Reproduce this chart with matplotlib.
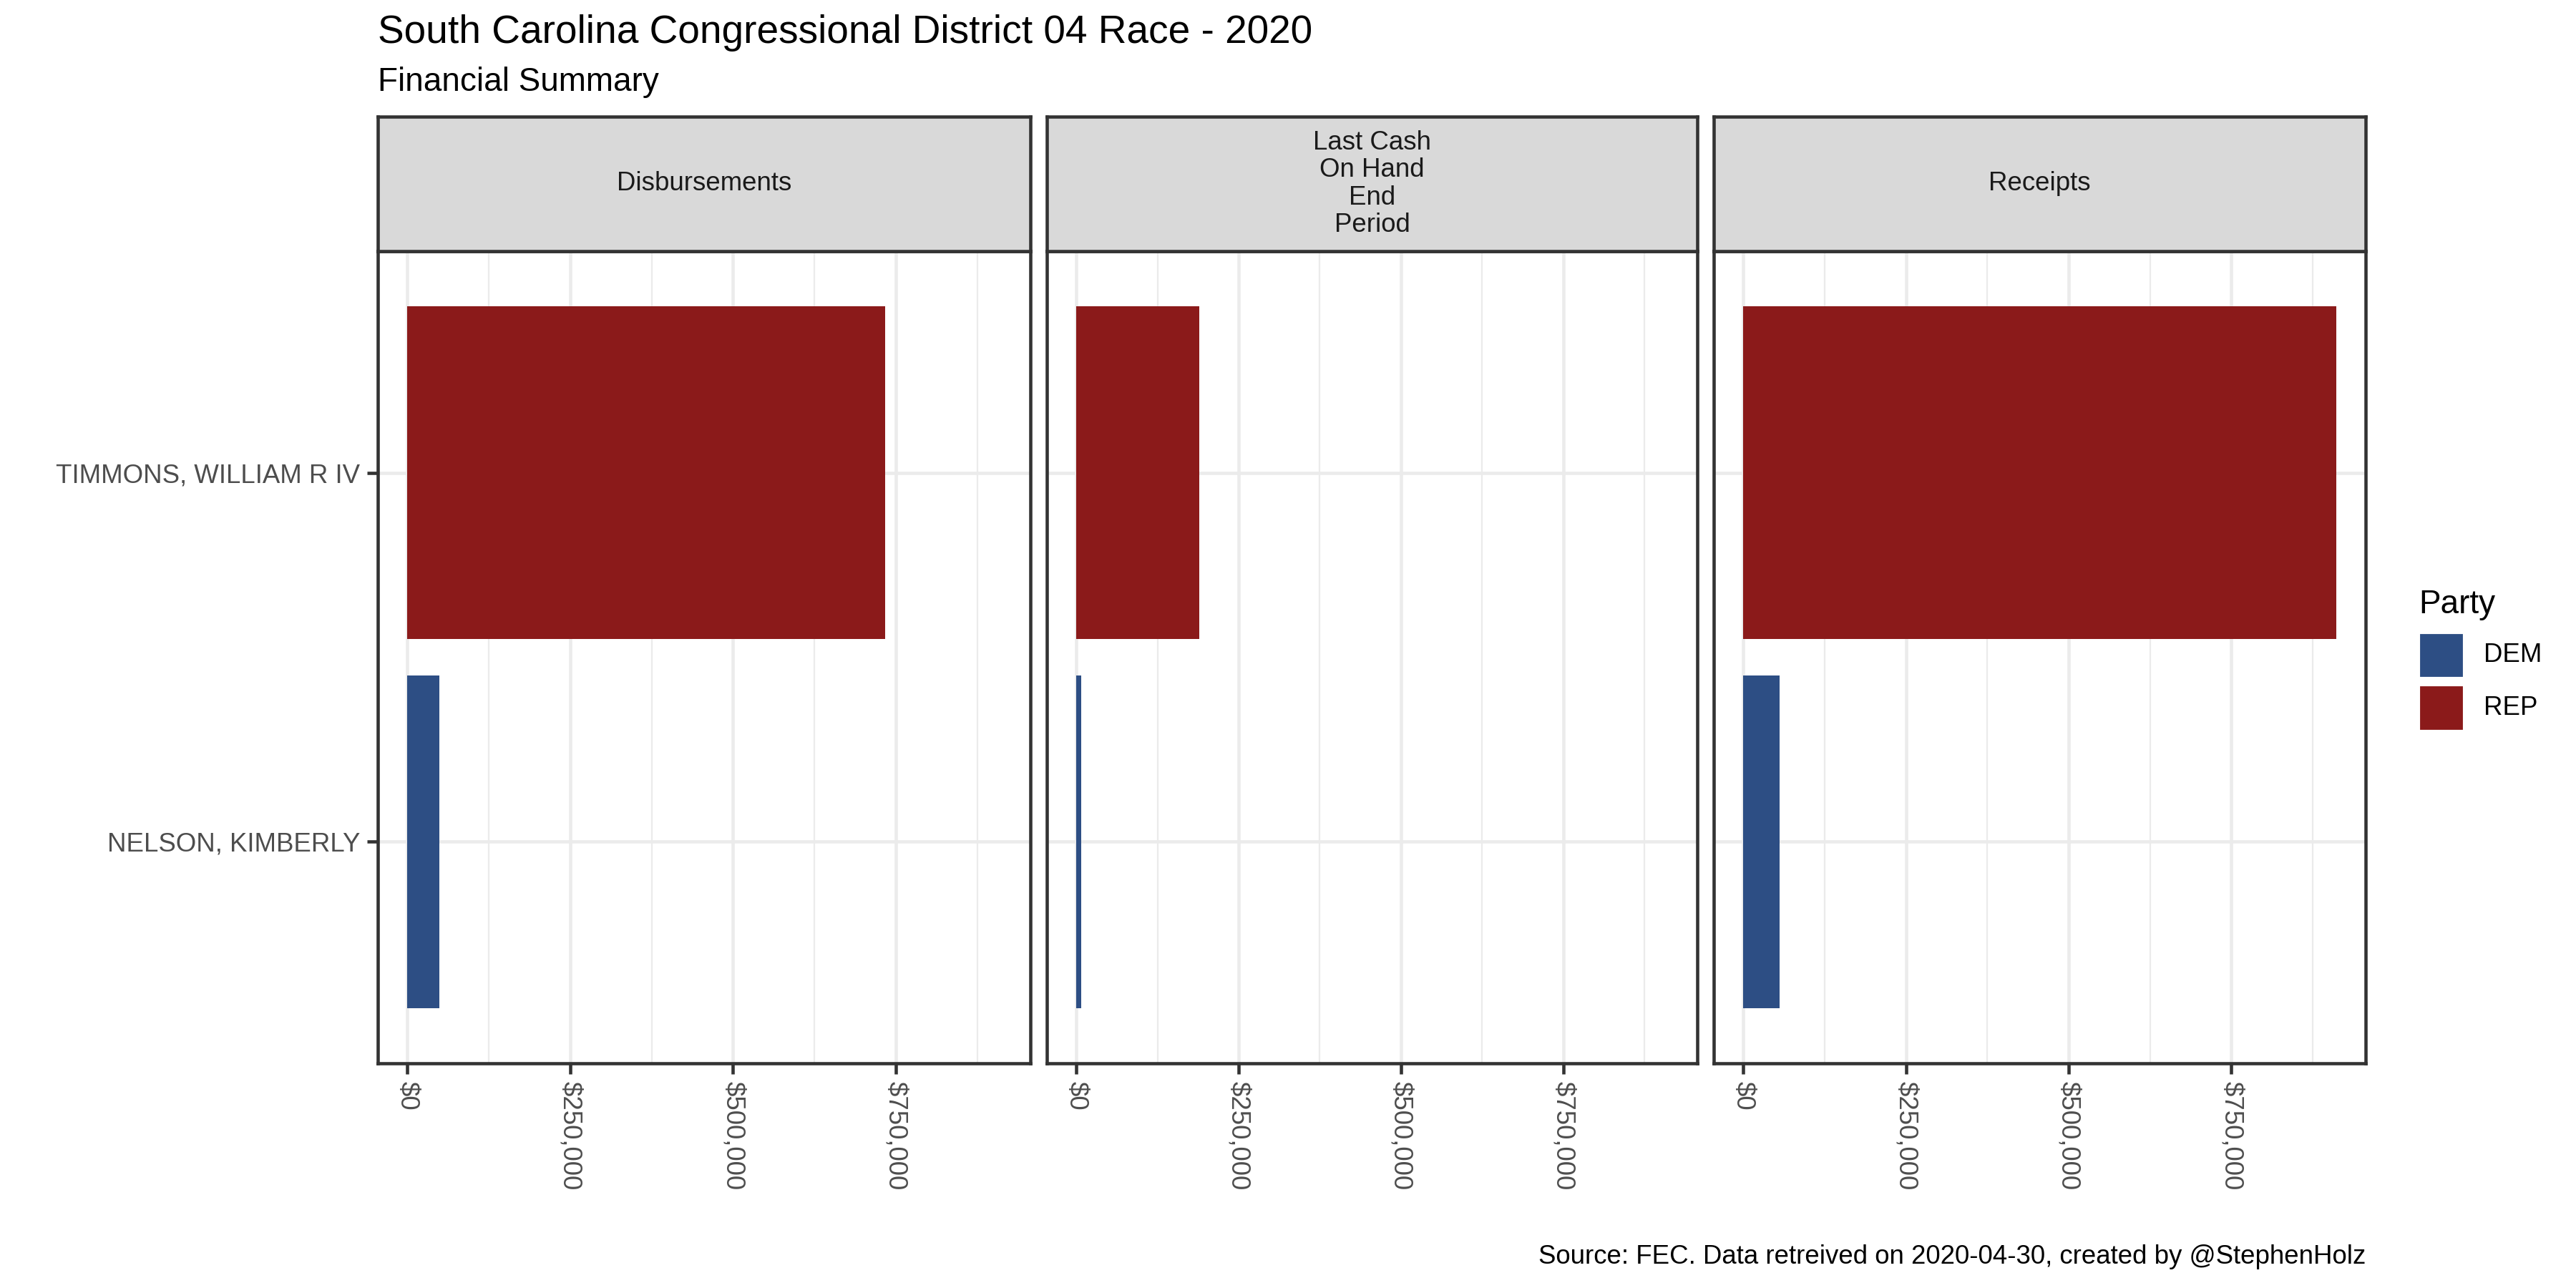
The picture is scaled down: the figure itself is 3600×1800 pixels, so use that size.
import matplotlib
matplotlib.use("Agg")
import matplotlib.pyplot as plt
from matplotlib.patches import Rectangle
from matplotlib.ticker import FixedLocator

plt.rcParams['font.family'] = ['Liberation Sans', 'DejaVu Sans']

# ---- data ----
candidates = ["NELSON, KIMBERLY", "TIMMONS, WILLIAM R IV"]
parties = ["DEM", "REP"]
facets = ["Disbursements", "Last Cash\nOn Hand\nEnd\nPeriod", "Receipts"]
disbursements = [49000, 734000]
cash_on_hand = [7000, 189000]
receipts = [56000, 911000]
values = [disbursements, cash_on_hand, receipts]
x_ticks = [0, 250000, 500000, 750000]
x_minor = [125000, 375000, 625000, 875000]
x_tick_labels = ["$0", "$250,000", "$500,000", "$750,000"]
party_colors = {"DEM": "#2D4E84", "REP": "#8B1A1A"}

W, H = 3600, 1800
fig = plt.figure(figsize=(12, 6), dpi=300)

def ax_px(x0, y0, x1, y1):
    return fig.add_axes([x0 / W, 1 - y1 / H, (x1 - x0) / W, (y1 - y0) / H])

panel_x = [(528, 1440), (1463, 2372), (2395, 3306)]
strip_top, panel_top, panel_bottom = 163, 351, 1486

vmax = max(max(v) for v in values)
xlim = (-0.05 * vmax, 1.05 * vmax)

for i, (x0, x1) in enumerate(panel_x):
    ax = ax_px(x0, panel_top, x1, panel_bottom)
    ax.set_facecolor("white")
    ax.set_xlim(*xlim)
    ax.set_ylim(-0.6, 1.6)
    ax.xaxis.set_major_locator(FixedLocator(x_ticks))
    ax.xaxis.set_minor_locator(FixedLocator(x_minor))
    ax.set_yticks(range(len(candidates)))
    ax.grid(True, which="major", color="#EBEBEB", linewidth=1.1)
    ax.grid(True, which="minor", axis="x", color="#EBEBEB", linewidth=0.55)
    ax.set_axisbelow(True)
    ax.tick_params(axis="x", which="minor", length=0)
    cols = [party_colors[p] for p in parties]
    ax.barh(range(len(candidates)), values[i], height=0.9, color=cols, zorder=2)
    for s in ax.spines.values():
        s.set_color("#333333")
        s.set_linewidth(1.1)
    ax.tick_params(axis="both", which="major", length=3.5, width=1.1, color="#333333",
                   labelsize=8.8, labelcolor="#4D4D4D", pad=2.5)
    ax.set_xticklabels(x_tick_labels, rotation=270, ha="center", va="top")
    if i == 0:
        ax.set_yticklabels(candidates)
    else:
        ax.set_yticklabels([])
        ax.tick_params(axis="y", length=0)
    # strip
    sax = ax_px(x0, strip_top, x1, panel_top)
    sax.set_xticks([]); sax.set_yticks([])
    sax.set_facecolor("#D9D9D9")
    for s in sax.spines.values():
        s.set_color("#333333")
        s.set_linewidth(1.1)
    sax.text(0.5, 0.5, facets[i], ha="center", va="center", fontsize=8.8,
             color="#1A1A1A", linespacing=1.12, transform=sax.transAxes)

# titles
fig.text(528 / W, 1 - 46 / H, "South Carolina Congressional District 04 Race - 2020",
         fontsize=13.2, ha="left", va="center", color="black")
fig.text(528 / W, 1 - 115 / H, "Financial Summary", fontsize=11, ha="left",
         va="center", color="black")
fig.text(3306 / W, 1 - 1756 / H,
         "Source: FEC. Data retreived on 2020-04-30, created by @StephenHolz",
         fontsize=8.8, ha="right", va="center", color="black")

# legend
fig.text(3380 / W, 1 - 845 / H, "Party", fontsize=11, ha="left", va="center")
key_y = [(884, 948), (957, 1022)]
for p, (ky0, ky1) in zip(parties, key_y):
    fig.patches.append(Rectangle((3380 / W, 1 - ky1 / H), 64 / W, (ky1 - ky0) / H,
                                 transform=fig.transFigure, facecolor=party_colors[p],
                                 edgecolor="white", linewidth=1))
    fig.text(3471 / W, 1 - (ky0 + ky1) / 2 / H, p, fontsize=8.8, ha="left", va="center")

fig.savefig("out.png", dpi=300, facecolor="white")
